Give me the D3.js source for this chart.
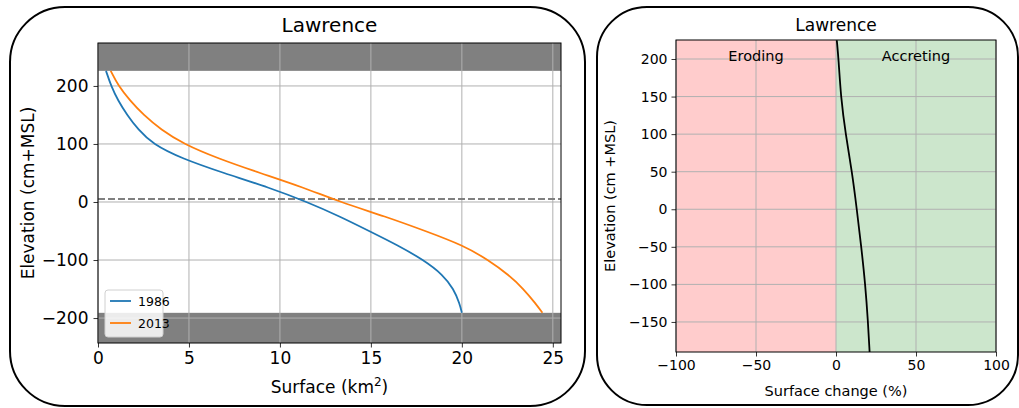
<!DOCTYPE html>
<html>
<head>
<meta charset="utf-8">
<script src="https://cdn.jsdelivr.net/npm/d3@7"></script>
<style>
  html, body { margin: 0; padding: 0; background: #fff; }
  svg { display: block; font-family: "DejaVu Sans", sans-serif; }
</style>
</head>
<body>
<svg id="fig" width="1019" height="408"></svg>
<script>
// Hypsometric curves: elevation (cm above MSL) vs. cumulative surface (km²)
const elevation = [226, 200, 175, 150, 125, 100, 75, 50, 25, 0, -25, -50, -75, -100, -125, -150, -175, -191];
const surface1986 = [0.44, 0.72, 1.1, 1.6, 2.2, 3.0, 4.6, 6.9, 9.4, 11.5, 13.3, 14.9, 16.5, 17.9, 18.95, 19.55, 19.88, 20.0];
const surface2013 = [0.70, 1.12, 1.75, 2.5, 3.45, 4.7, 6.6, 8.9, 11.3, 13.3, 15.8, 18.0, 20.1, 21.45, 22.55, 23.4, 24.05, 24.43];
const years = ["1986", "2013"];
const yearColors = ["#1f77b4", "#ff7f0e"];

// Elevation band limits shaded in grey and the reference water level
const bandTop = 226;
const bandBottom = -191;
const waterLevel = 5;

// Relative surface change per elevation
const changeElevation = [225, 200, 150, 100, 50, 0, -50, -100, -150, -190];
const changePercent = [0.5, 1.6, 3.0, 6.0, 10.0, 13.0, 15.8, 18.3, 20.0, 21.0];

const leftXTicks = [0, 5, 10, 15, 20, 25];
const leftYTicks = [-200, -100, 0, 100, 200];
const rightXTicks = [-100, -50, 0, 50, 100];
const rightYTicks = [-150, -100, -50, 0, 50, 100, 150, 200];
const zoneLabels = ["Eroding", "Accreting"];

const svg = d3.select("#fig");
const minus = s => String(s).replace("-", "\u2212");

// Figure title, mostly outside the frame
svg.append("text").attr("x", 76).attr("y", -4).attr("font-size", 18).attr("fill", "#000").text("Hypsometry");

// Rounded panel frames
svg.append("rect").attr("x", 10).attr("y", 7).attr("width", 575).attr("height", 399)
  .attr("rx", 55).attr("ry", 55).attr("fill", "none").attr("stroke", "#000").attr("stroke-width", 2);
svg.append("rect").attr("x", 597).attr("y", 7).attr("width", 421).attr("height", 398)
  .attr("rx", 50).attr("ry", 50).attr("fill", "none").attr("stroke", "#000").attr("stroke-width", 2);

function styleAxis(g, size) {
  g.select(".domain").remove();
  g.selectAll(".tick line").attr("stroke", "#000").attr("stroke-width", 0.8);
  g.selectAll(".tick text").attr("font-size", size).attr("fill", "#000")
    .attr("font-family", "DejaVu Sans, sans-serif");
}

// ---------- Left panel ----------
{
  const L = 98, R = 561, T = 43, B = 343;
  const x = d3.scaleLinear().domain([0, 25.45]).range([L, R]);
  const y = d3.scaleLinear().domain([-243, 274]).range([B, T]);
  const g = svg.append("g");

  // grey bands
  g.append("rect").attr("x", L).attr("width", R - L).attr("y", T).attr("height", y(bandTop) - T).attr("fill", "#808080");
  g.append("rect").attr("x", L).attr("width", R - L).attr("y", y(bandBottom)).attr("height", B - y(bandBottom)).attr("fill", "#808080");

  // grid
  g.append("g").selectAll("line").data(leftXTicks).join("line")
    .attr("x1", d => x(d)).attr("x2", d => x(d)).attr("y1", T).attr("y2", B)
    .attr("stroke", "#b0b0b0").attr("stroke-width", 1);
  g.append("g").selectAll("line").data(leftYTicks).join("line")
    .attr("x1", L).attr("x2", R).attr("y1", d => y(d)).attr("y2", d => y(d))
    .attr("stroke", "#b0b0b0").attr("stroke-width", 1);

  // water level
  g.append("line").attr("x1", L).attr("x2", R).attr("y1", y(waterLevel)).attr("y2", y(waterLevel))
    .attr("stroke", "#808080").attr("stroke-width", 2).attr("stroke-dasharray", "7,3");

  // curves
  const series = [surface1986, surface2013];
  const line = d3.line().x(d => x(d[0])).y(d => y(d[1])).curve(d3.curveBasis);
  series.forEach((s, i) => {
    g.append("path").datum(s.map((v, k) => [v, elevation[k]]))
      .attr("d", line).attr("fill", "none").attr("stroke", yearColors[i]).attr("stroke-width", 1.8);
  });

  // spines
  g.append("rect").attr("x", L).attr("y", T).attr("width", R - L).attr("height", B - T)
    .attr("fill", "none").attr("stroke", "#000").attr("stroke-width", 1);

  // axes
  const ax = g.append("g").attr("transform", `translate(0,${B})`)
    .call(d3.axisBottom(x).tickValues(leftXTicks).tickSize(4.5).tickPadding(4).tickFormat(d => minus(d)));
  styleAxis(ax, 17);
  const ay = g.append("g").attr("transform", `translate(${L},0)`)
    .call(d3.axisLeft(y).tickValues(leftYTicks).tickSize(4.5).tickPadding(5).tickFormat(d => minus(d)));
  styleAxis(ay, 17);

  // labels
  g.append("text").attr("x", (L + R) / 2).attr("y", 32).attr("text-anchor", "middle")
    .attr("font-size", 20).text("Lawrence");
  const xl = g.append("text").attr("x", (L + R) / 2).attr("y", 393).attr("text-anchor", "middle").attr("font-size", 17);
  xl.append("tspan").text("Surface (km");
  xl.append("tspan").attr("dy", -7).attr("font-size", 12).text("2");
  xl.append("tspan").attr("dy", 7).text(")");
  g.append("text").attr("transform", `translate(34,${(T + B) / 2}) rotate(-90)`).attr("text-anchor", "middle")
    .attr("font-size", 17).text("Elevation (cm+MSL)");

  // legend
  const lg = g.append("g").attr("transform", "translate(105,290)");
  lg.append("rect").attr("width", 58).attr("height", 47).attr("rx", 3)
    .attr("fill", "#fff").attr("fill-opacity", 0.85).attr("stroke", "#d0d0d0");
  years.forEach((yr, i) => {
    const cy = 11 + i * 22;
    lg.append("line").attr("x1", 5).attr("x2", 26).attr("y1", cy).attr("y2", cy)
      .attr("stroke", yearColors[i]).attr("stroke-width", 1.8);
    lg.append("text").attr("x", 33).attr("y", cy + 4.5).attr("font-size", 12.5).text(yr);
  });
}

// ---------- Right panel ----------
{
  const L = 676, R = 996, T = 40, B = 352;
  const x = d3.scaleLinear().domain([-100, 100]).range([L, R]);
  const y = d3.scaleLinear().domain([-190, 225.3]).range([B, T]);
  const g = svg.append("g");

  g.append("rect").attr("x", x(-100)).attr("width", x(0) - x(-100)).attr("y", T).attr("height", B - T)
    .attr("fill", "rgb(255,204,204)");
  g.append("rect").attr("x", x(0)).attr("width", x(100) - x(0)).attr("y", T).attr("height", B - T)
    .attr("fill", "rgb(204,230,204)");

  g.append("g").selectAll("line").data(rightXTicks).join("line")
    .attr("x1", d => x(d)).attr("x2", d => x(d)).attr("y1", T).attr("y2", B)
    .attr("stroke", "#b0b0b0").attr("stroke-width", 1);
  g.append("g").selectAll("line").data(rightYTicks).join("line")
    .attr("x1", L).attr("x2", R).attr("y1", d => y(d)).attr("y2", d => y(d))
    .attr("stroke", "#b0b0b0").attr("stroke-width", 1);

  const line = d3.line().x(d => x(d[0])).y(d => y(d[1])).curve(d3.curveBasis);
  g.append("path").datum(changePercent.map((v, k) => [v, changeElevation[k]]))
    .attr("d", line).attr("fill", "none").attr("stroke", "#000").attr("stroke-width", 1.8);

  g.append("rect").attr("x", L).attr("y", T).attr("width", R - L).attr("height", B - T)
    .attr("fill", "none").attr("stroke", "#000").attr("stroke-width", 1);

  const ax = g.append("g").attr("transform", `translate(0,${B})`)
    .call(d3.axisBottom(x).tickValues(rightXTicks).tickSize(4.5).tickPadding(4).tickFormat(d => minus(d)));
  styleAxis(ax, 14);
  const ay = g.append("g").attr("transform", `translate(${L},0)`)
    .call(d3.axisLeft(y).tickValues(rightYTicks).tickSize(4.5).tickPadding(4).tickFormat(d => minus(d)));
  styleAxis(ay, 14);

  g.append("text").attr("x", (L + R) / 2).attr("y", 31).attr("text-anchor", "middle")
    .attr("font-size", 17).text("Lawrence");
  g.append("text").attr("x", (L + R) / 2).attr("y", 396).attr("text-anchor", "middle")
    .attr("font-size", 14.5).text("Surface change (%)");
  g.append("text").attr("transform", `translate(615,${(T + B) / 2}) rotate(-90)`).attr("text-anchor", "middle")
    .attr("font-size", 14.5).text("Elevation (cm +MSL)");

  [-50, 50].forEach((cx, i) => {
    g.append("text").attr("x", x(cx)).attr("y", 61).attr("text-anchor", "middle")
      .attr("font-size", 14.5).text(zoneLabels[i]);
  });
}
</script>
</body>
</html>
